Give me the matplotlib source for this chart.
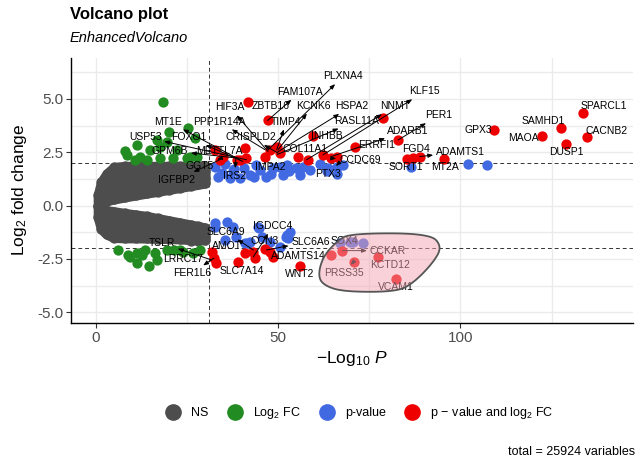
import numpy as np
import matplotlib.pyplot as plt
from matplotlib.lines import Line2D
from matplotlib.patches import Polygon

plt.rcParams['font.family'] = ['Liberation Sans', 'DejaVu Sans']
plt.rcParams['mathtext.fontset'] = 'custom'
plt.rcParams['mathtext.rm'] = 'Liberation Sans'
plt.rcParams['mathtext.it'] = 'Liberation Sans:italic'
plt.rcParams['mathtext.bf'] = 'Liberation Sans:bold'

# ---- data (x = -log10 P, y = log2 FC) ----
# NS cloud envelope (two arms of point centres)
ns_x     = [0.6, 1.5, 3.0, 5.0, 8.0, 11, 14, 17, 20, 23, 26, 28, 30]
ns_up_hi = [0.50, 1.10, 1.50, 1.80, 1.85, 1.85, 1.85, 1.85, 1.85, 1.85, 1.85, 1.85, 1.85]
ns_up_lo = [0.00, 0.00, 0.23, 0.30, 0.40, 0.49, 0.58, 0.66, 0.75, 0.84, 0.93, 0.99, 1.05]
ns_dn_hi = [0.00, 0.00, -0.23, -0.28, -0.36, -0.43, -0.50, -0.60, -0.70, -0.80, -0.90, -0.97, -1.04]
ns_dn_lo = [-0.55, -1.10, -1.35, -1.50, -1.52, -1.52, -1.53, -1.55, -1.55, -1.57, -1.60, -1.60, -1.62]
ns_edge_x = [30, 30, 30, 30, 28, 26]
ns_edge_y = [1.30, 1.60, -1.25, -1.45, -1.68, -1.65]

# Log2 FC only (green)
fc_x = [18.5, 25.4, 27.2, 20.1, 11.2, 8.5, 12.1, 14.9, 17.6, 22.2, 21.2, 27.7, 17.6,
        24.9, 14.0, 10.8, 16.7, 19.4, 8.0, 25.8,
        6.2, 8.9, 11.4, 11.2, 14.7, 16.2, 16.7, 19.4, 24.0, 26.7, 28.6, 21.5, 13.5,
        9.4, 12.6, 23.1]
fc_y = [4.88, 3.63, 3.16, 3.47, 2.85, 2.38, 2.30, 2.62, 2.77, 2.62, 2.22, 2.30, 2.22,
        2.22, 2.15, 2.15, 3.08, 3.00, 2.54, 2.30,
        -2.08, -2.31, -2.20, -2.70, -2.83, -2.24, -2.55, -2.08, -2.16, -2.24, -2.08, -2.10, -2.10,
        -2.39, -2.31, -2.08]

# p-value only (blue)
p_x = [32.7, 34.5, 36.8, 39.5, 42.3, 45.0, 46.8, 50.5, 51.4, 55.0, 56.8, 58.7, 61.4,
       63.3, 66.0, 35.4, 63.7, 67.8, 66.2, 86.5, 102.0, 107.3, 55.9, 38.0, 44.0,
       48.5, 53.0, 33.5, 37.5, 40.5, 43.5, 48.0, 52.5,
       32.7, 35.9, 35.4, 40.9, 42.3, 44.5, 45.5, 47.7, 52.3, 52.7, 53.2, 50.5, 66.9,
       69.6, 32.7, 37.5, 44.8, 52.1, 41.8, 70.5, 73.3, 38.5]
p_y = [1.83, 1.52, 1.29, 1.29, 1.44, 1.68, 1.36, 1.83, 1.44, 1.76, 1.83, 1.68, 1.95,
       1.60, 1.83, 1.95, 1.76, 1.91, 1.49, 1.83, 1.93, 1.90, 1.44, 1.70, 1.90,
       1.75, 1.60, 1.35, 1.60, 1.75, 1.35, 1.50, 1.90,
       -0.83, -0.75, -1.61, -1.77, -1.69, -0.99, -1.46, -1.69, -1.38, -1.53, -1.22, -1.92, -1.77,
       -1.69, -0.99, -0.99, -1.06, -1.46, -1.77, -1.69, -1.77, -1.45]

# p-value and log2 FC (red)
both_x = [41.8, 47.1, 59.6, 40.9, 34.0, 39.5, 41.3, 46.4, 47.7, 49.6, 50.5, 55.5,
          58.2, 62.3, 64.6, 66.0, 71.0, 78.8, 82.9, 85.2, 87.0, 88.8, 95.6, 109.3,
          122.4, 127.6, 133.7, 134.6, 129.0, 34.9, 38.6, 32.7,
          31.8, 32.4, 32.9, 39.0, 40.9, 43.2, 43.6, 46.4, 47.7, 48.6, 56.1, 64.6,
          67.6, 70.7, 77.4, 82.4]
both_y = [4.88, 3.99, 3.24, 2.69, 2.15, 2.15, 2.22, 2.30, 2.62, 2.77, 2.46, 2.27,
          2.15, 2.38, 2.22, 2.30, 2.77, 4.10, 3.08, 2.18, 2.22, 2.30, 2.18, 3.55,
          3.24, 3.63, 4.34, 3.21, 2.90, 2.30, 2.15, 2.62,
          -2.16, -2.47, -2.70, -2.63, -2.24, -2.16, -2.47, -2.05, -2.16, -2.39, -2.83, -2.31,
          -2.11, -2.63, -2.42, -3.44]

# gene labels: name, gene point, whether a connector is drawn
lab_names = ['PLXNA4', 'FAM107A', 'HIF3A', 'ZBTB16', 'KCNK6', 'HSPA2', 'MT1E', 'PPP1R14A',
             'TIMP4', 'RASL11A', 'CRISPLD2', 'INHBB', 'USP53', 'FOXO1', 'GPM6B', 'METTL7A',
             'COL11A1', 'GGT5', 'IMPA2', 'CCDC69', 'IRS2', 'IGFBP2', 'PTX3', 'KLF15', 'NNMT',
             'PER1', 'ADARB1', 'ERRFI1', 'FGD4', 'ADAMTS1', 'SORT1', 'MT2A', 'GPX3', 'SAMHD1',
             'MAOA', 'SPARCL1', 'CACNB2', 'DUSP1',
             'IGDCC4', 'SLC6A9', 'TSLR', 'AMOT', 'CCN3', 'SLC6A6', 'SOX4', 'CCKAR', 'LRRC17',
             'ADAMTS14', 'FER1L6', 'SLC7A14', 'WNT2', 'PRSS35', 'KCTD12', 'VCAM1']
lab_gx = [47.2, 47.1, 47.2, 41.8, 49.9, 49.9, 39.5, 46.4, 49.6, 49.8, 50.0, 59.6, 41.3, 40.3,
          38.1, 41.2, 55.0, 34.6, 46.6, 64.6, 38.4, 34.0, 66.4, 62.3, 57.8, 82.9, 64.6, 71.0,
          87.0, 88.8, 85.2, 95.6, 109.3, 127.6, 122.4, 133.7, 134.6, 129.0,
          43.2, 43.2, 31.8, 40.9, 46.4, 46.8, 67.6, 67.6, 32.2, 48.6, 32.4, 39.0, 56.1, 70.7,
          77.4, 82.4]
lab_gy = [2.61, 3.99, 2.54, 4.88, 2.61, 2.52, 2.15, 2.62, 2.62, 2.40, 2.46, 3.24, 2.15, 2.07,
          2.24, 2.66, 2.22, 2.24, 2.24, 2.22, 2.24, 2.15, 1.95, 2.38, 2.15, 3.08, 2.30, 2.77,
          2.22, 2.30, 2.18, 2.18, 3.55, 3.63, 3.24, 4.34, 3.21, 2.90,
          -2.40, -2.08, -2.55, -2.24, -2.05, -2.08, -2.11, -2.11, -2.30, -2.39, -2.46, -2.63,
          -2.83, -2.63, -2.42, -3.44]
lab_arrow = [1, 1, 1, 0, 1, 1, 1, 1, 1, 1, 1, 0, 1, 1, 1, 0, 0, 1, 0, 1, 1, 1, 1, 1, 1,
             1, 1, 0, 0, 1, 0, 0, 0, 0, 0, 0, 0, 0,
             1, 1, 1, 0, 0, 1, 0, 1, 0, 0, 1, 0, 0, 1, 0, 0]

# label placement (layout, data coordinates)
lab_tx = [67.8, 56.1, 36.8, 47.9, 59.6, 70.2, 19.9, 33.8, 52.3, 71.6, 42.4, 63.3, 13.5, 25.4,
          20.3, 34.0, 57.3, 28.6, 47.7, 72.4, 38.1, 22.2, 63.7, 90.2, 82.0, 94.1, 85.6, 76.9,
          87.7, 100.0, 85.0, 95.8, 104.8, 122.6, 117.4, 139.2, 140.1, 129.0,
          48.6, 35.6, 18.1, 36.1, 46.4, 58.9, 68.3, 80.1, 24.0, 55.5, 26.3, 40.0, 55.9, 68.0,
          80.6, 82.4]
lab_ty = [6.06, 5.33, 4.60, 4.68, 4.68, 4.66, 3.94, 3.94, 3.94, 3.98, 3.21, 3.27, 3.21, 3.21,
          2.58, 2.58, 2.65, 1.86, 1.80, 2.15, 1.39, 1.21, 1.49, 5.35, 4.65, 4.23, 3.52, 2.85,
          2.65, 2.51, 1.80, 1.80, 3.55, 3.98, 3.16, 4.65, 3.51, 2.51,
          -0.95, -1.22, -1.77, -1.89, -1.66, -1.69, -1.64, -2.11, -2.52, -2.36, -3.17, -3.05,
          -3.21, -3.15, -2.78, -3.83]

# encircled region outline
hull_x = [60.95, 62.3, 66.0, 69.6, 91.5, 95.0, 92.4, 87.0, 82.4, 67.8, 62.3]
hull_y = [-3.25, -2.39, -1.69, -1.30, -1.30, -1.92, -2.70, -3.64, -4.04, -4.04, -3.72]

legend_labels = ['NS', r'Log$_2$ FC', 'p-value', r'p$\,-\,$value and log$_2$ FC']
n_total = 25924
p_cut = 31
fc_cut = 2

c_ns, c_fc, c_p, c_both = '#4D4D4D', '#228B22', '#4169E1', '#EE0000'
dot = 55

fig = plt.figure(figsize=(6.4, 4.66), dpi=100)
ax = fig.add_axes([0.111, 0.307, 0.878, 0.569])

# NS cloud: envelope of point centres, stroked by one point diameter
for lo, hi in ((ns_up_lo, ns_up_hi), (ns_dn_lo, ns_dn_hi)):
    ax.fill_between(ns_x, lo, hi, facecolor=c_ns, edgecolor=c_ns, lw=7.0,
                    joinstyle='round', capstyle='round', zorder=2)
for arm in (ns_up_hi, ns_up_lo, ns_dn_hi, ns_dn_lo):
    ax.scatter(ns_x, arm, s=dot, color=c_ns, lw=0, zorder=2)
ax.scatter(ns_edge_x, ns_edge_y, s=dot, color=c_ns, lw=0, zorder=2)

ax.scatter(fc_x, fc_y, s=dot, color=c_fc, lw=0, zorder=3)
ax.scatter(p_x, p_y, s=dot, color=c_p, lw=0, zorder=3)
ax.scatter(both_x, both_y, s=dot, color=c_both, lw=0, zorder=3)

# cut-off lines
ax.axvline(p_cut, color='#333333', ls=(0, (4, 3)), lw=0.7, zorder=1.5)
for v in (-fc_cut, fc_cut):
    ax.axhline(v, color='#333333', ls=(0, (4, 3)), lw=0.7, zorder=1.5)

# labels with connectors
for i, name in enumerate(lab_names):
    if lab_arrow[i]:
        ax.annotate(name, xy=(lab_gx[i], lab_gy[i]), xytext=(lab_tx[i], lab_ty[i]),
                    ha='center', va='center', fontsize=7.5, zorder=5,
                    arrowprops=dict(arrowstyle='<|-,head_length=0.5,head_width=0.2',
                                    color='black', lw=0.7, shrinkA=0, shrinkB=0,
                                    mutation_scale=6))
    else:
        ax.text(lab_tx[i], lab_ty[i], name, ha='center', va='center',
                fontsize=7.5, zorder=5)

# encircled area (corners rounded by corner cutting)
pts = np.column_stack([hull_x, hull_y])
for _ in range(4):
    nxt = np.roll(pts, -1, axis=0)
    pts = np.stack([0.75 * pts + 0.25 * nxt, 0.25 * pts + 0.75 * nxt], axis=1).reshape(-1, 2)
ax.add_patch(Polygon(pts, closed=True, facecolor='#f4a6b4', alpha=0.5,
                     edgecolor='none', zorder=6))
ax.add_patch(Polygon(pts, closed=True, facecolor='none', edgecolor='#555555',
                     lw=1.3, zorder=6))

ax.set_xlim(-6.8, 147.3)
ax.set_ylim(-5.5, 6.93)
ax.set_xticks([0, 50, 100])
ax.set_xticks([25, 75, 125], minor=True)
ax.set_yticks([-5, -2.5, 0, 2.5, 5])
ax.set_yticklabels(['-5.0', '-2.5', '0.0', '2.5', '5.0'])
ax.set_yticks([-3.75, -1.25, 1.25, 3.75, 6.25], minor=True)
ax.grid(True, which='both', color='#ebebeb', lw=1.0, zorder=0)
ax.set_axisbelow(True)
ax.tick_params(which='major', length=3.5, width=0.8, color='#333333',
               labelsize=11, labelcolor='#4D4D4D', pad=2)
ax.tick_params(which='minor', length=0)
for s in ('top', 'right'):
    ax.spines[s].set_visible(False)
for s in ('left', 'bottom'):
    ax.spines[s].set_linewidth(1.0)
ax.set_xlabel(r'$-$Log$_{10}$ $P$', fontsize=12.5, labelpad=3)
ax.set_ylabel(r'Log$_2$ fold change', fontsize=12.5, labelpad=6)

fig.text(0.109, 0.968, 'Volcano plot', fontsize=12, weight='bold', va='center')
fig.text(0.109, 0.918, 'EnhancedVolcano', fontsize=10.5, style='italic', va='center')

handles = [Line2D([], [], marker='o', ls='', color=c, markersize=11)
           for c in (c_ns, c_fc, c_p, c_both)]
fig.legend(handles, legend_labels, loc='center', bbox_to_anchor=(0.562, 0.114),
           ncol=4, frameon=False, fontsize=9, handletextpad=0.85, columnspacing=1.5,
           handlelength=1.2)
fig.text(0.992, 0.03, 'total = %d variables' % n_total, ha='right', va='center', fontsize=9)

fig.savefig('out.png', dpi=100)
